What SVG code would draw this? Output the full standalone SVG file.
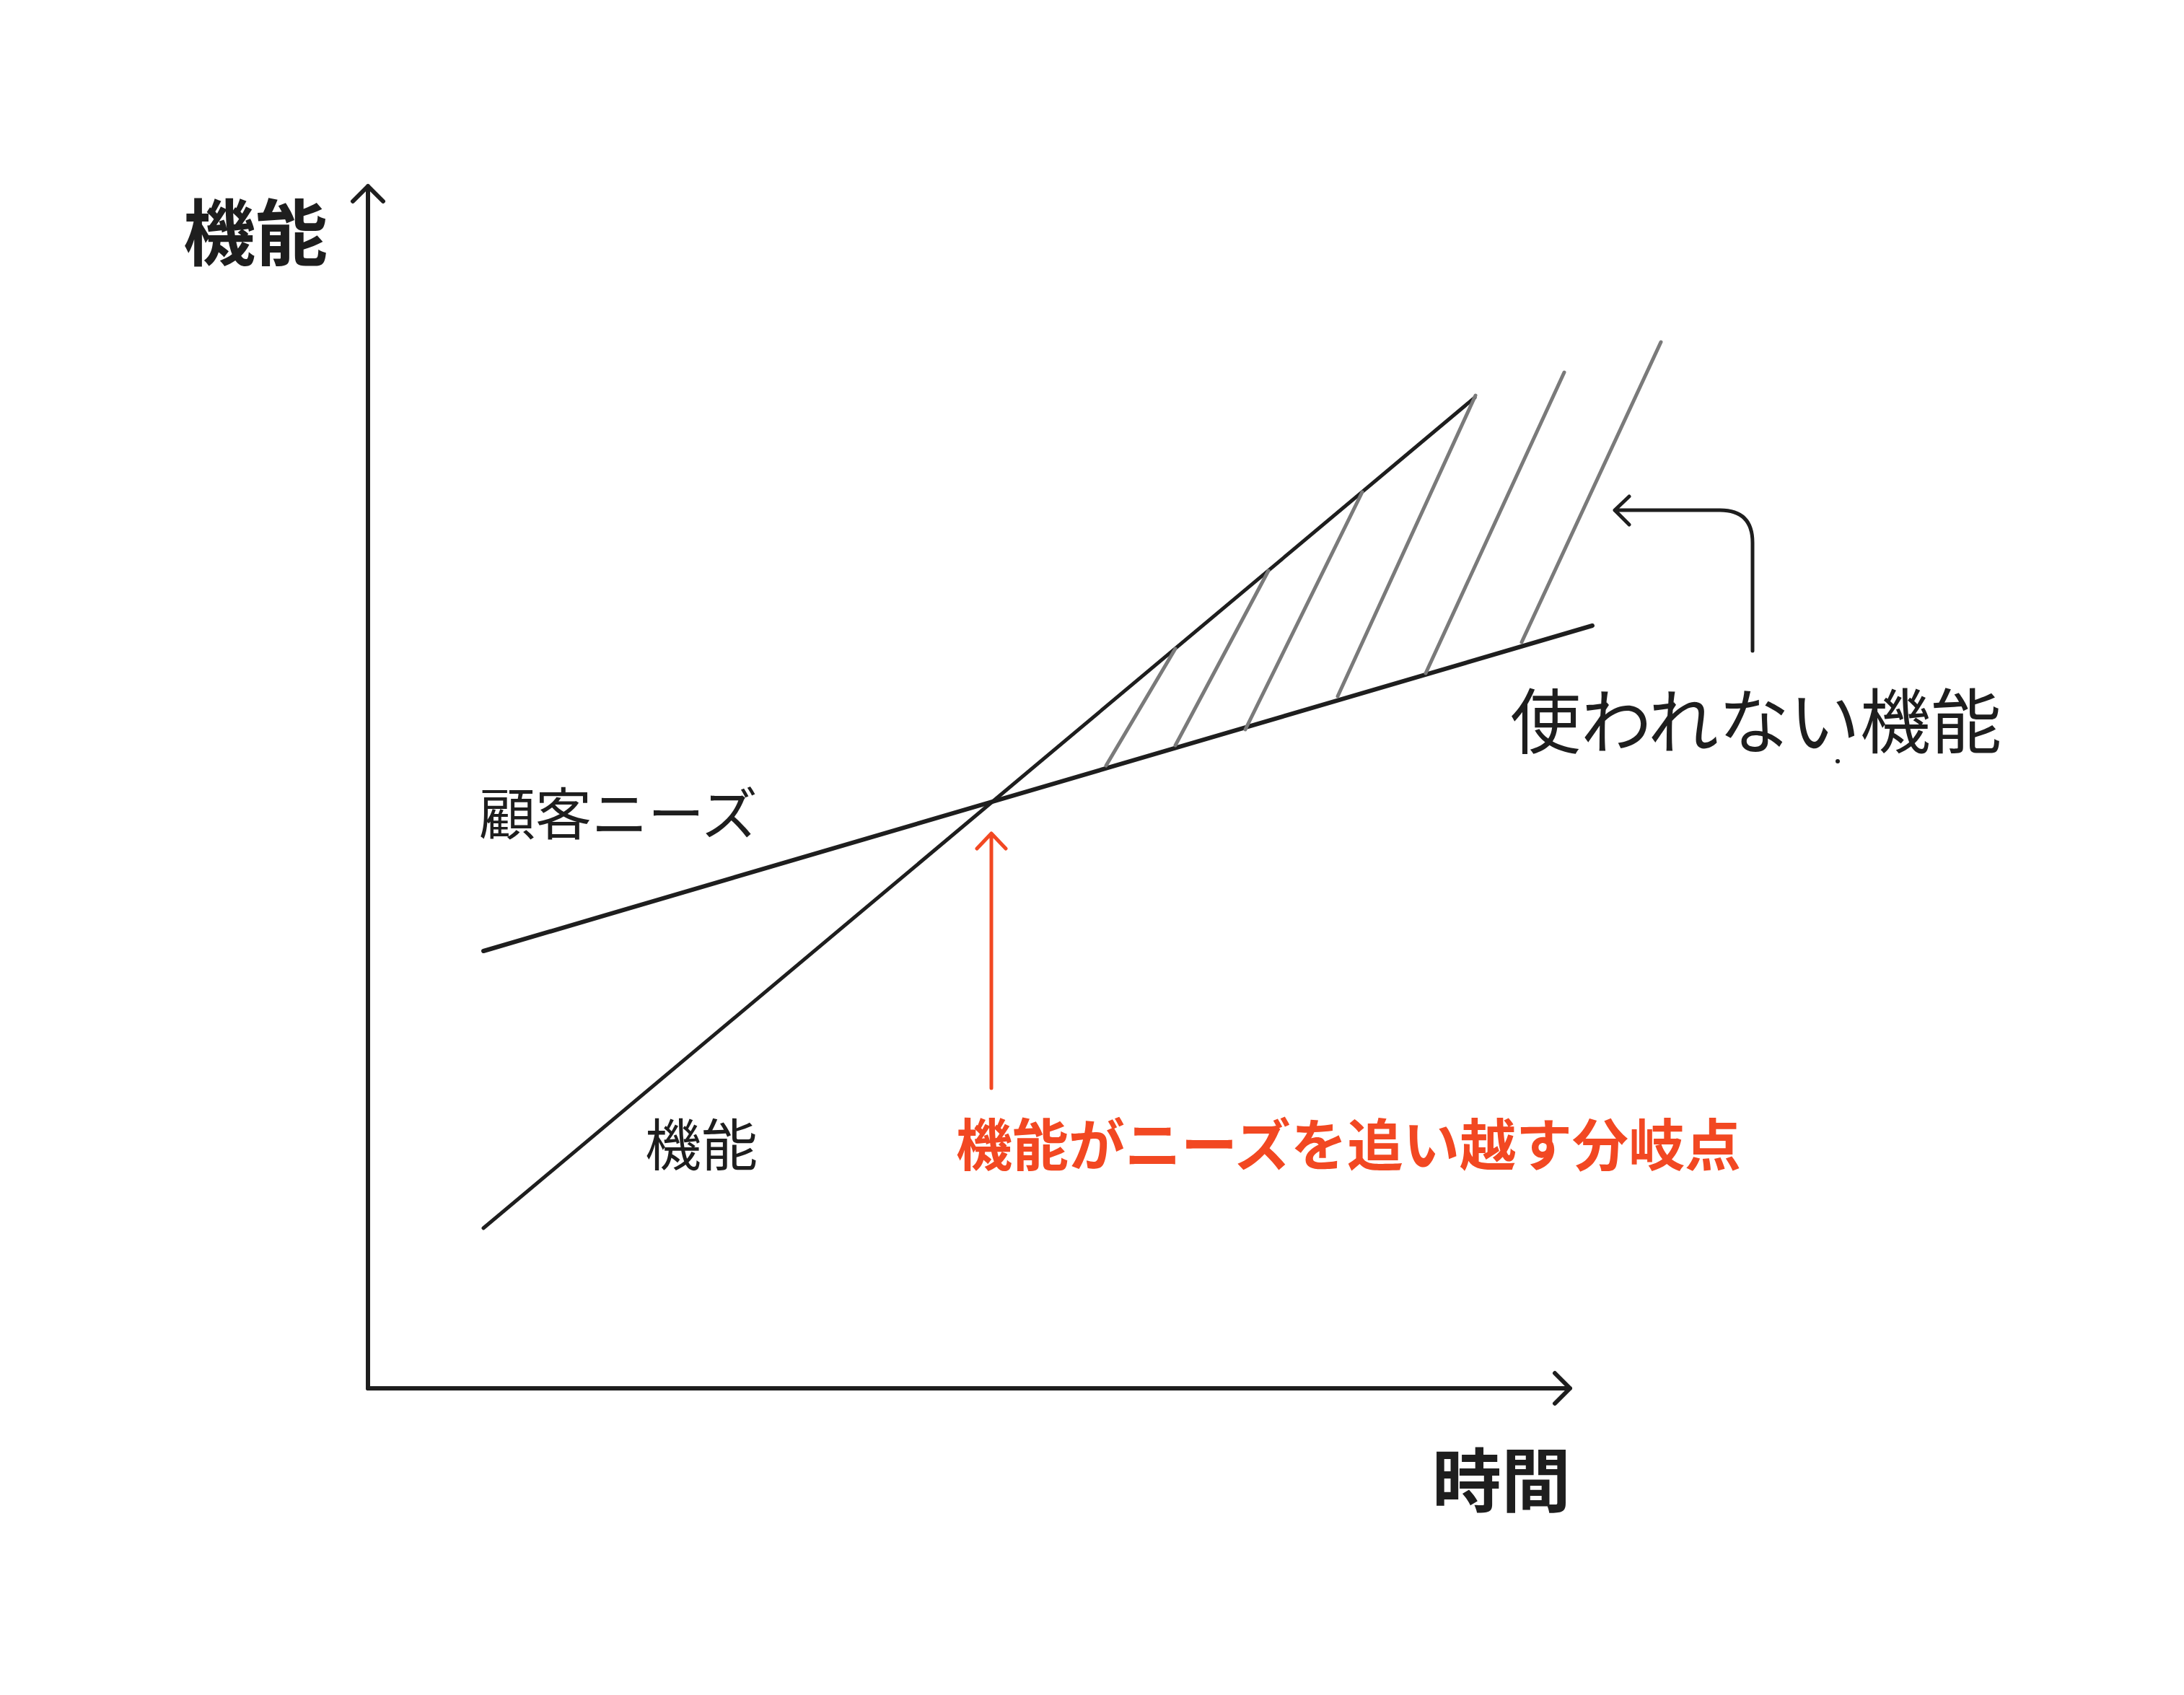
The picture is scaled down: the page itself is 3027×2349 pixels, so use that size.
<svg xmlns="http://www.w3.org/2000/svg" width="3027" height="2349" viewBox="0 0 3027 2349">
<style>
.ink{fill:none;stroke:#1e1e1e;stroke-linecap:round;stroke-linejoin:round}
.hatch{fill:none;stroke:#7a7a7a;stroke-width:5;stroke-linecap:round}
.red{fill:none;stroke:#f24822;stroke-width:5;stroke-linecap:round;stroke-linejoin:round}
.t{font-family:"Noto Sans CJK JP","Noto Sans CJK SC",sans-serif;fill:#1e1e1e}
.b{font-weight:700}
</style>
<rect width="3027" height="2349" fill="#ffffff"/>
<g id="axes">
  <path class="ink" stroke-width="6" d="M510 1924 L510 258 M489 279 L510 258 L531 279"/>
  <path class="ink" stroke-width="6" d="M510 1924 L2176 1924 M2155 1903 L2176 1924 L2155 1945"/>
</g>
<g id="curves">
  <line id="needs-line" class="ink" stroke-width="6" x1="670" y1="1318" x2="2207" y2="867"/>
  <line id="function-line" class="ink" stroke-width="5" x1="670" y1="1702" x2="2044" y2="551"/>
</g>
<g id="hatching">
  <line class="hatch" x1="1533" y1="1061" x2="1629" y2="899"/>
  <line class="hatch" x1="1629" y1="1033" x2="1758" y2="791"/>
  <line class="hatch" x1="1726" y1="1011" x2="1888" y2="682"/>
  <line class="hatch" x1="1854" y1="965" x2="2045" y2="548"/>
  <line class="hatch" x1="1976" y1="933" x2="2168" y2="516"/>
  <line class="hatch" x1="2109" y1="890" x2="2302" y2="474"/>
</g>
<g id="connectors">
  <path class="ink" stroke-width="5" d="M2429 902 L2429 752 Q2429 707 2384 707 L2238 707 M2258 688 L2238 707 L2258 727"/>
  <path class="red" d="M1374 1508 L1374 1155 M1354 1176 L1374 1155 L1394 1176"/>
</g>
<g id="label-y-axis"><text class="t b" x="254" y="360" font-size="100">機能</text></g>
<g id="label-x-axis"><text class="t b" x="1985" y="2087" font-size="96">時間</text></g>
<g id="label-needs"><text class="t" x="664" y="1157" font-size="78">顧客ニーズ</text></g>
<g id="label-function"><text class="t" x="894" y="1616" font-size="78">機能</text></g>
<g id="label-crossover"><text class="t b" x="1325" y="1616" font-size="78" style="fill:#f24822">機能がニーズを追い越す分岐点</text></g>
<g id="label-unused"><text class="t" x="2093" y="1036" font-size="98">使われない機能</text><circle cx="2547" cy="1055" r="3" fill="#1e1e1e"/></g>
</svg>
